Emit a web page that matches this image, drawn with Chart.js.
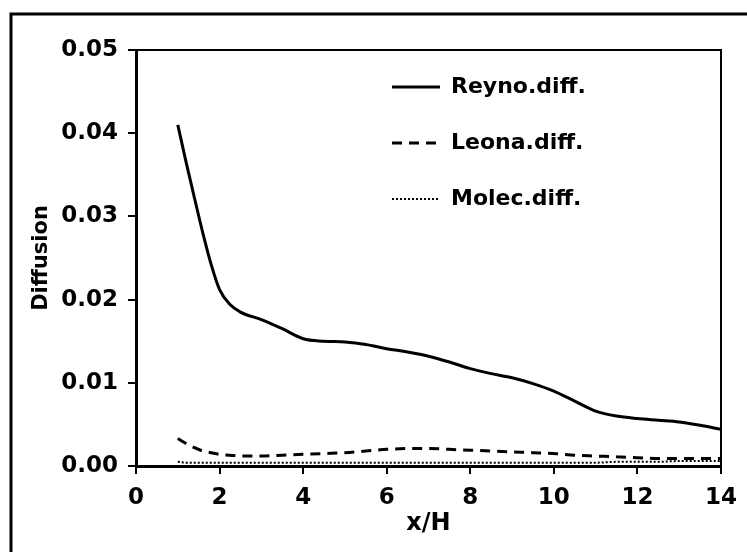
<!DOCTYPE html>
<html lang="en">
<head>
<meta charset="UTF-8">
<title>Diffusion vs x/H</title>
<script src="https://cdn.jsdelivr.net/npm/chart.js"></script>
<style>
  html, body { margin: 0; padding: 0; background: #fff; }
</style>
</head>
<body>
<canvas id="chart" width="747" height="552"></canvas>

<script>
// positions along x/H
const xPos = [1, 1.2, 1.4, 1.6, 1.8, 2, 2.25, 2.5, 3, 3.5, 4, 4.5, 5, 5.5, 6, 6.5, 7, 7.5, 8, 8.5, 9, 9.5, 10, 10.5, 11, 11.5, 12, 12.5, 13, 13.5, 14];

const reynoDiff = [0.0410, 0.0365, 0.0322, 0.0280, 0.0242, 0.0212, 0.0194, 0.0185, 0.0176, 0.0165, 0.0153, 0.0150, 0.0149, 0.0146, 0.0141, 0.0137, 0.0132, 0.0125, 0.0117, 0.0111, 0.0106, 0.0099, 0.0090, 0.0078, 0.0066, 0.0060, 0.0057, 0.0055, 0.0053, 0.0049, 0.0044];
const leonaDiff = [0.0033, 0.0027, 0.0022, 0.0018, 0.0016, 0.0014, 0.0013, 0.0012, 0.0012, 0.0013, 0.0014, 0.0015, 0.0016, 0.0018, 0.0020, 0.0021, 0.0021, 0.0020, 0.0019, 0.0018, 0.0017, 0.0016, 0.0015, 0.0013, 0.0012, 0.0011, 0.0010, 0.0009, 0.0009, 0.0009, 0.0009];
const molecDiff = [0.0005, 0.0004, 0.0004, 0.0004, 0.0004, 0.0004, 0.0004, 0.0004, 0.0004, 0.0004, 0.0004, 0.0004, 0.0004, 0.0004, 0.0004, 0.0004, 0.0004, 0.0004, 0.0004, 0.0004, 0.0004, 0.0004, 0.0004, 0.0004, 0.0004, 0.0005, 0.0005, 0.0005, 0.0006, 0.0006, 0.0006];

const seriesNames = ['Reyno.diff.', 'Leona.diff.', 'Molec.diff.'];
const yTickLabels = ['0.00', '0.01', '0.02', '0.03', '0.04', '0.05'];
const xTickLabels = ['0', '2', '4', '6', '8', '10', '12', '14'];

const FONT = 'DejaVu Sans';

function pts(ys) {
    return xPos.map((x, i) => ({ x: x, y: ys[i] }));
}

// top/right box lines and the outer frame
const framePlugin = {
    id: 'frame',
    afterDraw(chart) {
        const c = chart.ctx;
        const a = chart.chartArea;
        c.save();
        c.strokeStyle = '#000';
        c.lineWidth = 2;
        c.beginPath();
        c.moveTo(a.left, a.top);
        c.lineTo(a.right, a.top);
        c.lineTo(a.right, a.bottom);
        c.stroke();
        c.lineWidth = 3;
        c.beginPath();
        c.moveTo(11, chart.height);
        c.lineTo(11, 14);
        c.lineTo(chart.width, 14);
        c.stroke();
        c.restore();
    }
};

// legend drawn inside the plot
const legendPlugin = {
    id: 'insideLegend',
    afterDraw(chart) {
        const c = chart.ctx;
        const rows = [87, 143, 199];
        c.save();
        c.font = 'bold 22px "' + FONT + '"';
        c.textBaseline = 'middle';
        c.fillStyle = '#000';
        chart.data.datasets.forEach((ds, i) => {
            const y = rows[i];
            c.strokeStyle = '#000';
            c.lineWidth = ds.borderWidth;
            c.setLineDash(ds.borderDash || []);
            c.beginPath();
            c.moveTo(392, y);
            c.lineTo(440, y);
            c.stroke();
            c.setLineDash([]);
            c.fillText(ds.label, 451, y);
        });
        c.restore();
    }
};

const ctx = document.getElementById('chart').getContext('2d');
const chart = new Chart(ctx, {
    type: 'line',
    data: {
        datasets: [{
            label: seriesNames[0],
            data: pts(reynoDiff),
            borderColor: '#000',
            borderWidth: 3,
            pointRadius: 0,
            cubicInterpolationMode: 'monotone'
        }, {
            label: seriesNames[1],
            data: pts(leonaDiff),
            borderColor: '#000',
            borderWidth: 3,
            borderDash: [10, 7],
            pointRadius: 0,
            cubicInterpolationMode: 'monotone'
        }, {
            label: seriesNames[2],
            data: pts(molecDiff),
            borderColor: '#000',
            borderWidth: 2,
            borderDash: [2, 2],
            pointRadius: 0,
            cubicInterpolationMode: 'monotone'
        }]
    },
    options: {
        responsive: false,
        animation: false,
        layout: { padding: { left: 0, top: 50, right: 25, bottom: 0 } },
        plugins: {
            legend: { display: false },
            tooltip: { enabled: false }
        },
        scales: {
            x: {
                type: 'linear',
                min: 0,
                max: 14,
                afterFit(scale) { scale.height = 86; },
                ticks: {
                    stepSize: 2,
                    padding: 10,
                    color: '#000',
                    font: { family: FONT, size: 23, weight: 'bold' },
                    maxRotation: 0,
                    callback: (v) => xTickLabels[v / 2]
                },
                grid: { drawOnChartArea: false, drawTicks: true, tickLength: 8, color: '#000', lineWidth: 2 },
                border: { display: true, color: '#000', width: 3 },
                title: {
                    display: true,
                    text: 'x/H',
                    color: '#000',
                    font: { family: FONT, size: 24, weight: 'bold' },
                    padding: { top: 0, bottom: 14 }
                }
            },
            y: {
                min: 0,
                max: 0.05,
                afterFit(scale) { scale.width = 136; },
                ticks: {
                    stepSize: 0.01,
                    padding: 10,
                    color: '#000',
                    font: { family: FONT, size: 23, weight: 'bold' },
                    callback: (v, i) => yTickLabels[i]
                },
                grid: { drawOnChartArea: false, drawTicks: true, tickLength: 8, color: '#000', lineWidth: 2 },
                border: { display: true, color: '#000', width: 3 },
                title: {
                    display: true,
                    text: 'Diffusion',
                    color: '#000',
                    font: { family: FONT, size: 21, weight: 'bold' },
                    padding: { top: 29, bottom: 0 }
                }
            }
        }
    },
    plugins: [framePlugin, legendPlugin]
});
</script>
</body>
</html>
